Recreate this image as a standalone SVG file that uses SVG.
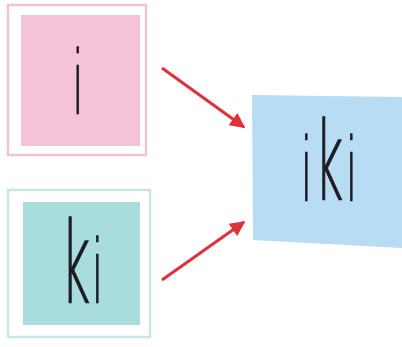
<svg xmlns="http://www.w3.org/2000/svg" width="402" height="347" viewBox="0 0 402 347">
<style>
.frame{fill:none;stroke-width:2.5}
.lbl{font-family:"DejaVu Sans","Liberation Sans",sans-serif;font-weight:200;fill:#1c1c24;stroke:#1c1c24;stroke-width:1.6}
.tall{font-size:112px}
.small{font-size:87px}
.arr{stroke:#e0303a;stroke-width:3;fill:none;marker-end:url(#ah)}
</style>
<defs>
<marker id="ah" viewBox="0 0 10 10" refX="9" refY="5" markerWidth="5.5" markerHeight="5" orient="auto" markerUnits="strokeWidth">
<path d="M0,0 L10,5 L0,10 z" fill="#e0303a"/>
</marker>
</defs>
<rect width="402" height="347" fill="#ffffff"/>
<g id="node-i">
<rect x="8" y="5" width="138" height="150" class="frame" stroke="#efc3d6"/>
<rect x="21" y="15" width="119" height="131" fill="#f4c3da"/>
<g transform="translate(78,0) scale(0.45,1)"><text x="0" y="113" class="lbl small" text-anchor="middle">i</text></g>
</g>
<g id="node-ki">
<rect x="8" y="190" width="142" height="147" class="frame" stroke="#c7e6e6"/>
<rect x="23" y="202" width="117" height="123" fill="#a9dcdc"/>
<g transform="translate(61,0) scale(0.45,1)"><text class="lbl" y="302"><tspan x="0" class="tall">k</tspan><tspan x="69" class="small">i</tspan></text></g>
</g>
<g id="node-iki">
<path d="M252,95 L402,97 L402,248 L253,240 Z" fill="#b8dcf3"/>
<g transform="translate(301,0) scale(0.45,1)"><text class="lbl" y="200"><tspan x="0" class="small">i</tspan><tspan x="31" style="font-size:108px">k</tspan><tspan x="100" class="small">i</tspan></text></g>
</g>
<g id="connectors">
<line x1="162" y1="68" x2="244" y2="127" class="arr"/>
<line x1="162" y1="280" x2="244" y2="222" class="arr"/>
</g>
</svg>
